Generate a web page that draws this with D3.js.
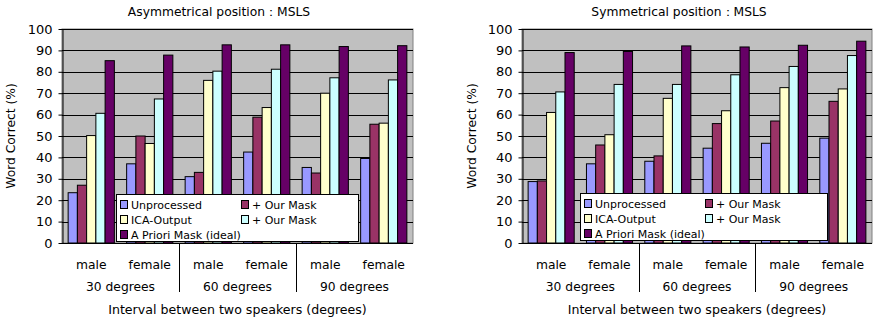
<!DOCTYPE html>
<html><head><meta charset="utf-8">
<script src="https://cdn.jsdelivr.net/npm/d3@7"></script>
<style>
body{margin:0;background:#fff;}
text{font-family:"DejaVu Sans",sans-serif;fill:#000;}
</style></head>
<body><svg id="c" width="875" height="321"></svg>
<script>
const groups = ["male30","female30","male60","female60","male90","female90"];
const genderLabels = ["male","female","male","female","male","female"];
const degreeLabels = ["30 degrees","60 degrees","90 degrees"];
const seriesNames = ["Unprocessed","+ Our Mask","ICA-Output","+ Our Mask","A Priori Mask (ideal)"];
const seriesColors = ["#9999ff","#993366","#ffffcc","#ccffff","#660066"];
const yTicks = [0,10,20,30,40,50,60,70,80,90,100];

// Asymmetrical position: values per series (6 groups each)
const asymUnprocessed = [23.5,37,31,42.5,35.3,39.5];
const asymMask1       = [27,50,33,58.8,32.7,55.5];
const asymICA         = [50.2,46.5,76,63.3,70,56];
const asymMask2       = [60.6,67.3,80.3,81.2,77.2,76.2];
const asymPriori      = [85.2,87.8,92.6,92.6,91.8,92.2];

// Symmetrical position
const symUnprocessed = [28.7,37,38.2,44.3,46.6,49];
const symMask1       = [29,45.8,40.7,55.8,57,66.2];
const symICA         = [61,50.6,67.6,61.8,72.6,72];
const symMask2       = [70.6,74.1,74.1,78.6,82.5,87.6];
const symPriori      = [89,89.5,92.1,91.6,92.4,94.3];

const svg = d3.select("#c");

function drawChart(cfg){
  const series = cfg.series;
  const g = svg.append("g");
  const x0 = d3.scaleBand().domain(groups).range([cfg.x0, cfg.x1]).paddingInner(0.21).paddingOuter(0.105);
  const x1 = d3.scaleBand().domain(d3.range(5)).range([0, x0.bandwidth()]);
  const y = d3.scaleLinear().domain([0,100]).range([243, 29]);

  g.append("rect").attr("x",cfg.x0).attr("y",y(100)).attr("width",cfg.x1-cfg.x0).attr("height",y(0)-y(100))
    .attr("fill","#c0c0c0").attr("stroke","#808080").attr("stroke-width",1);
  g.selectAll(".grid").data(yTicks.filter(d=>d>0)).join("line")
    .attr("x1",cfg.x0).attr("x2",cfg.x1).attr("y1",d=>Math.round(y(d))+0.5).attr("y2",d=>Math.round(y(d))+0.5)
    .attr("stroke","#000").attr("stroke-width",1);

  groups.forEach((grp,gi)=>{
    series.forEach((s,si)=>{
      g.append("rect")
        .attr("x",x0(grp)+x1(si)).attr("y",y(s[gi]))
        .attr("width",x1.bandwidth()).attr("height",y(0)-y(s[gi]))
        .attr("fill",seriesColors[si]).attr("stroke","#000").attr("stroke-width",1);
    });
  });

  const ya = g.append("g").attr("transform",`translate(${cfg.x0+0.5},0)`)
    .call(d3.axisLeft(y).tickValues(yTicks).tickSize(4).tickSizeOuter(0));
  ya.select(".domain").attr("stroke","#000");
  ya.selectAll("text").attr("font-size",13).attr("font-family","Liberation Sans, Arial, sans-serif").attr("dx",-3);
  g.append("line").attr("x1",cfg.x0).attr("x2",cfg.x1).attr("y1",243.5).attr("y2",243.5).attr("stroke","#000");

  g.selectAll(".gl").data(groups).join("text")
    .attr("x",d=>x0(d)+x0.bandwidth()/2).attr("y",269)
    .attr("text-anchor","middle").attr("font-size",12.3).text((d,i)=>genderLabels[i]);
  degreeLabels.forEach((lab,i)=>{
    const cx = cfg.x0 + (cfg.x1-cfg.x0)*(2*i+1)/6;
    g.append("text").attr("x",cx).attr("y",291).attr("text-anchor","middle").attr("font-size",12.3).text(lab);
  });
  [1,2].forEach(i=>{
    const sx = Math.round(cfg.x0 + (cfg.x1-cfg.x0)*i/3)+0.5;
    g.append("line").attr("x1",sx).attr("x2",sx).attr("y1",243).attr("y2",292).attr("stroke","#000");
  });
  g.append("text").attr("x",(cfg.x0+cfg.x1)/2).attr("y",314).attr("text-anchor","middle").attr("font-size",12.6)
    .text("Interval between two speakers (degrees)");
  g.append("text").attr("transform",`translate(${cfg.ytx},136) rotate(-90)`).attr("text-anchor","middle")
    .attr("font-size",12.3).text("Word Correct (%)");
  g.append("text").attr("x",cfg.titleX).attr("y",16).attr("text-anchor","middle").attr("font-size",12.3).text(cfg.title);

  const lg = g.append("g").attr("transform",`translate(${cfg.legX},${cfg.legY})`);
  lg.append("rect").attr("x",0.5).attr("y",0.5).attr("width",cfg.legW).attr("height",47).attr("fill","#fff").attr("stroke","#000");
  const pos = [[0,0],[1,0],[0,1],[1,1],[0,2]];
  seriesNames.forEach((n,i)=>{
    const px = 4 + pos[i][0]*121, py = 4 + pos[i][1]*15;
    lg.append("rect").attr("x",px+0.5).attr("y",py+2.5).attr("width",7).attr("height",8).attr("fill",seriesColors[i]).attr("stroke","#000");
    lg.append("text").attr("x",px+11).attr("y",py+11).attr("font-size",11).text(n);
  });
}

drawChart({series:[asymUnprocessed,asymMask1,asymICA,asymMask2,asymPriori], x0:62, x1:413, ytx:15, titleX:219,
  title:"Asymmetrical position：MSLS", legX:116, legY:194, legW:242});
drawChart({series:[symUnprocessed,symMask1,symICA,symMask2,symPriori], x0:522, x1:872, ytx:476, titleX:679,
  title:"Symmetrical position：MSLS", legX:580, legY:193, legW:247});
</script></body></html>
